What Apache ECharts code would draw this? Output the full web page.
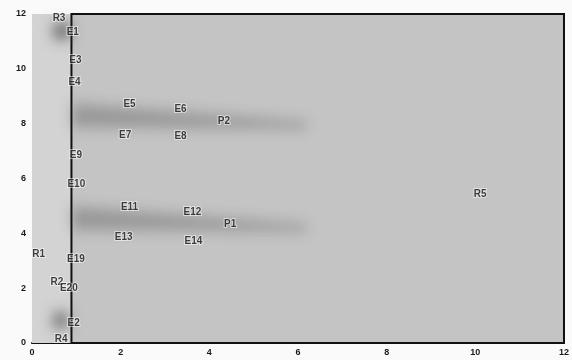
<!DOCTYPE html>
<html>
<head>
<meta charset="utf-8">
<script src="https://cdn.jsdelivr.net/npm/echarts@6/dist/echarts.min.js"></script>
<style>
  html, body { margin: 0; padding: 0; background: #fafafa; }
  #chart { width: 572px; height: 360px; }
</style>
</head>
<body>
<div id="chart"></div>
<script>
// tick values on both axes
const xTicks = [0, 2, 4, 6, 8, 10, 12];
const yTicks = [0, 2, 4, 6, 8, 10, 12];

// labelled points
const pointNames = ['R3', 'E1', 'E3', 'E4', 'E5', 'E6', 'P2', 'E7', 'E8', 'E9', 'E10',
  'E11', 'E12', 'P1', 'E13', 'E14', 'R1', 'E19', 'R2', 'E20', 'E2', 'R4', 'R5'];
const pointX = [0.61, 0.92, 0.98, 0.96, 2.2, 3.35, 4.33, 2.1, 3.35, 0.99, 1.0,
  2.2, 3.62, 4.47, 2.07, 3.64, 0.15, 0.99, 0.56, 0.83, 0.94, 0.66, 10.11];
const pointY = [11.83, 11.35, 10.33, 9.52, 8.72, 8.53, 8.1, 7.58, 7.55, 6.85, 5.79,
  4.94, 4.76, 4.32, 3.85, 3.7, 3.22, 3.04, 2.23, 2.01, 0.73, 0.15, 5.42];

// shaded smears: [xStart, xEnd, centreStart, centreEnd, halfStart, halfEnd, alpha]
const smears = [
  [0.95, 6.15, 8.3, 7.95, 0.42, 0.12, 0.32],
  [0.95, 6.15, 4.55, 4.2, 0.42, 0.12, 0.32],
  [0.5, 0.86, 11.38, 11.38, 0.28, 0.28, 0.75],
  [0.5, 0.8, 0.82, 0.82, 0.3, 0.28, 0.7]
];

// frame: left pale strip and the black box
const stripRange = [0, 0.89];
const boxRange = [0.89, 12];

const chart = echarts.init(document.getElementById('chart'));

// shape is drawn far off to the left, only its blurred shadow lands on the plot
const SHIFT = 3000;

function renderSmear(params, api) {
  const x0 = api.value(0), x1 = api.value(1);
  const c0 = api.value(2), c1 = api.value(3);
  const h0 = api.value(4), h1 = api.value(5);
  const alpha = api.value(6);
  const top = [], bot = [];
  const n = 20;
  for (let i = 0; i <= n; i++) {
    const t = i / n;
    const x = x0 + (x1 - x0) * t;
    const c = c0 + (c1 - c0) * t;
    const h = h0 + (h1 - h0) * t;
    const a = api.coord([x, c + h]);
    const b = api.coord([x, c - h]);
    top.push([a[0] - SHIFT, a[1]]);
    bot.unshift([b[0] - SHIFT, b[1]]);
  }
  return {
    type: 'polygon',
    shape: { points: top.concat(bot), smooth: 0.4 },
    style: {
      fill: '#000',
      shadowBlur: 14,
      shadowColor: 'rgba(60,60,60,' + alpha + ')',
      shadowOffsetX: SHIFT,
      shadowOffsetY: 0
    }
  };
}

const option = {
  backgroundColor: '#fafafa',
  animation: false,
  grid: {
    left: 32, right: 6, top: 14, bottom: 17,
    show: true,
    backgroundColor: '#c4c4c4',
    borderWidth: 0
  },
  xAxis: {
    type: 'value',
    min: xTicks[0], max: xTicks[xTicks.length - 1], interval: 2,
    axisLine: { show: true, lineStyle: { color: '#111', width: 2 } },
    axisTick: { show: false },
    splitLine: { show: false },
    axisLabel: {
      color: '#1a1a1a', fontSize: 9, fontWeight: 'bold',
      fontFamily: 'Liberation Sans', margin: 5
    }
  },
  yAxis: {
    type: 'value',
    min: yTicks[0], max: yTicks[yTicks.length - 1], interval: 2,
    axisLine: { show: false },
    axisTick: { show: false },
    splitLine: { show: false },
    axisLabel: {
      color: '#1a1a1a', fontSize: 9, fontWeight: 'bold',
      fontFamily: 'Liberation Sans', margin: 6
    }
  },
  series: [
    {
      type: 'custom',
      z: 1,
      clip: false,
      renderItem: renderSmear,
      data: smears,
      silent: true,
      markArea: {
        silent: true,
        itemStyle: { color: '#d3d3d3' },
        data: [[{ xAxis: stripRange[0], yAxis: 0 }, { xAxis: stripRange[1], yAxis: 12 }]]
      }
    },
    {
      type: 'scatter',
      z: 5,
      data: [],
      markArea: {
        silent: true,
        itemStyle: { color: 'transparent', borderColor: '#111', borderWidth: 2 },
        data: [[{ xAxis: boxRange[0], yAxis: 0 }, { xAxis: boxRange[1], yAxis: 12 }]]
      }
    },
    {
      type: 'scatter',
      z: 10,
      symbolSize: 1,
      itemStyle: { color: 'transparent' },
      data: pointNames.map((n, i) => [pointX[i], pointY[i], n]),
      label: {
        show: true,
        position: 'inside',
        formatter: p => p.value[2],
        color: '#111',
        fontSize: 10,
        fontWeight: 'bold',
        fontFamily: 'Liberation Sans',
        textBorderColor: 'rgba(255,255,255,0.65)',
        textBorderWidth: 2
      }
    }
  ]
};

chart.setOption(option);
</script>
</body>
</html>
